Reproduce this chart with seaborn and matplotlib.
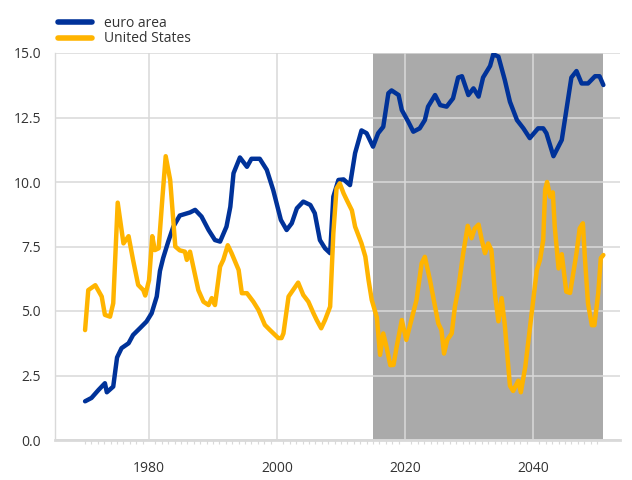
import numpy as np
import matplotlib
matplotlib.use('Agg')
import matplotlib.pyplot as plt
from matplotlib.ticker import FixedLocator
import seaborn as sns

# euro area (year, value)
ea_year = [1970.0,1971.0,1972.1,1973.1,1973.4,1974.4,1975.0,1975.7,1976.8,1977.5,1978.6,1979.6,
           1980.4,1981.2,1981.7,1982.2,1983.0,1983.8,1984.8,1986.4,1987.2,1988.2,1989.3,1990.3,
           1991.1,1992.1,1992.7,1993.2,1994.2,1995.3,1996.0,1997.3,1998.4,1999.4,2000.6,2001.5,
           2002.3,2003.1,2004.1,2005.2,2005.9,2006.7,2007.5,2008.3,2008.8,2009.6,2010.4,2011.4,
           2012.2,2013.2,2014.0,2015.0,2015.8,2016.6,2017.4,2017.9,2019.0,2019.5,2020.5,2021.3,
           2022.3,2023.1,2023.6,2024.7,2025.5,2026.5,2027.5,2028.3,2028.9,2029.9,2030.7,2031.5,
           2032.2,2033.3,2033.8,2034.6,2035.6,2036.4,2037.5,2038.5,2039.5,2040.8,2041.6,2042.1,
           2043.2,2044.5,2045.3,2046.0,2046.8,2047.6,2048.6,2049.7,2050.4,2051.0]
ea_val = [1.5,1.63,1.94,2.2,1.85,2.07,3.2,3.56,3.75,4.07,4.34,4.59,
          4.91,5.56,6.55,7.05,7.69,8.27,8.7,8.82,8.92,8.66,8.14,7.75,
          7.69,8.27,9.04,10.34,10.95,10.59,10.9,10.9,10.47,9.69,8.53,8.14,
          8.4,8.98,9.24,9.11,8.79,7.75,7.43,7.24,9.43,10.08,10.1,9.88,
          11.12,12.0,11.89,11.37,11.89,12.14,13.44,13.55,13.37,12.79,12.34,11.95,
          12.08,12.4,12.92,13.37,12.98,12.92,13.24,14.05,14.1,13.37,13.63,13.31,
          14.05,14.5,14.95,14.86,13.95,13.11,12.4,12.08,11.7,12.08,12.08,11.89,
          11.0,11.63,12.92,14.05,14.3,13.82,13.82,14.1,14.1,13.76]

# United States
us_year = [1970.0,1970.5,1971.6,1972.6,1973.1,1973.9,1974.4,1975.1,1976.0,1976.8,1977.5,1978.3,
           1979.1,1979.4,1980.0,1980.5,1980.9,1981.5,1982.1,1982.6,1983.3,1984.1,1984.8,1985.6,
           1985.9,1986.4,1986.9,1987.7,1988.5,1989.3,1989.8,1990.3,1991.1,1991.6,1992.3,1992.9,
           1994.0,1994.5,1995.3,1996.3,1997.1,1998.1,1998.9,2000.2,2000.7,2001.0,2001.8,2002.5,
           2003.3,2004.1,2004.9,2005.7,2006.2,2006.9,2007.5,2008.3,2008.8,2009.3,2009.8,2010.4,
           2010.9,2011.7,2012.2,2013.2,2013.8,2014.3,2014.8,2015.6,2016.1,2016.6,2017.1,2017.7,
           2018.2,2018.7,2019.5,2020.2,2021.0,2021.8,2022.6,2023.1,2023.9,2024.7,2025.2,2025.7,
           2026.1,2026.6,2027.3,2027.8,2028.3,2029.1,2029.8,2030.4,2030.9,2031.5,2032.0,2032.5,
           2033.0,2033.5,2034.1,2034.6,2035.1,2035.6,2036.4,2036.9,2037.7,2038.1,2038.8,2039.8,
           2040.6,2041.1,2041.6,2041.9,2042.2,2042.7,2043.1,2043.4,2044.0,2044.5,2045.2,2045.8,
           2046.3,2046.8,2047.3,2047.8,2048.1,2048.6,2049.2,2049.6,2050.2,2050.6,2051.0]
us_val = [4.26,5.81,6.0,5.56,4.85,4.78,5.3,9.2,7.62,7.9,6.98,6.01,
          5.81,5.6,6.2,7.9,7.36,7.43,9.43,11.0,10.08,7.5,7.35,7.3,
          6.98,7.3,6.72,5.81,5.36,5.23,5.5,5.23,6.72,6.98,7.55,7.24,
          6.59,5.69,5.69,5.36,5.04,4.46,4.26,3.95,3.95,4.13,5.56,5.81,
          6.1,5.62,5.36,4.91,4.65,4.33,4.65,5.17,8.01,9.75,9.95,9.56,
          9.3,8.9,8.27,7.62,7.11,6.2,5.43,4.75,3.3,4.13,3.62,2.9,
          2.91,3.62,4.65,3.88,4.65,5.43,6.85,7.1,6.2,5.17,4.52,4.26,
          3.35,3.88,4.13,5.17,5.81,7.24,8.3,7.82,8.2,8.35,7.75,7.24,
          7.62,7.36,5.56,4.6,5.5,4.45,2.1,1.9,2.3,1.85,2.84,4.91,
          6.59,6.98,7.75,9.7,10.0,9.43,9.6,8.27,6.65,7.2,5.75,5.7,
          6.46,7.24,8.2,8.4,7.11,5.3,4.45,4.45,5.69,7.05,7.17]

span_start, span_end = 2015, 2051

blue = '#003299'
yellow = '#ffb400'
grid_c = '#d9d9d9'

sns.set_style('white')
plt.rcParams['font.family'] = ['Open Sans', 'DejaVu Sans']

fig = plt.figure(figsize=(6.32, 4.8), dpi=100)
ax = fig.add_axes([55/632, 40/480, 565/632, 387/480])

ax.axvspan(span_start, span_end, color='#aaaaaa', lw=0, zorder=0.2)
sns.lineplot(x=ea_year, y=ea_val, ax=ax, color=blue, lw=3.2, label='euro area', zorder=3)
sns.lineplot(x=us_year, y=us_val, ax=ax, color=yellow, lw=3.2, label='United States', zorder=3)

ax.set_xlim(1965.3, 2053.6)
ax.set_ylim(0, 15)
ax.set_yticks([0, 2.5, 5, 7.5, 10, 12.5, 15])
ax.set_yticklabels([f'{v:.1f}' for v in [0, 2.5, 5, 7.5, 10, 12.5, 15]])
ax.set_xticks([1980, 2000, 2020, 2040])
ax.xaxis.set_minor_locator(FixedLocator(range(1970, 2051)))
ax.grid(True, which='major', color=grid_c, lw=1.1, zorder=0.5)
ax.set_axisbelow(False)
for l in ax.get_xgridlines() + ax.get_ygridlines():
    l.set_zorder(0.5)
ax.tick_params(axis='y', length=6, color=grid_c, width=1, labelsize=10, labelcolor='#333333', pad=4)
ax.tick_params(axis='x', which='major', length=5, color=grid_c, width=1, labelsize=10, labelcolor='#333333', pad=10)
ax.tick_params(axis='x', which='minor', length=3, color=grid_c, width=0.8, bottom=True)
for s in ['top', 'right']:
    ax.spines[s].set_visible(False)
ax.spines['left'].set_color(grid_c); ax.spines['left'].set_linewidth(1)
ax.spines['bottom'].set_color(grid_c); ax.spines['bottom'].set_linewidth(2)

ax.legend_.remove()
h, lab = ax.get_legend_handles_labels()
fig.legend(h, lab, loc='upper left', bbox_to_anchor=(48/632, 1 - 6/480), frameon=False,
           fontsize=10, handlelength=2.5, handletextpad=0.8, labelspacing=0.05,
           borderaxespad=0.3, labelcolor='#333333')
for lh in fig.legends[0].get_lines():
    lh.set_linewidth(4)

fig.savefig('out.png', dpi=100)
